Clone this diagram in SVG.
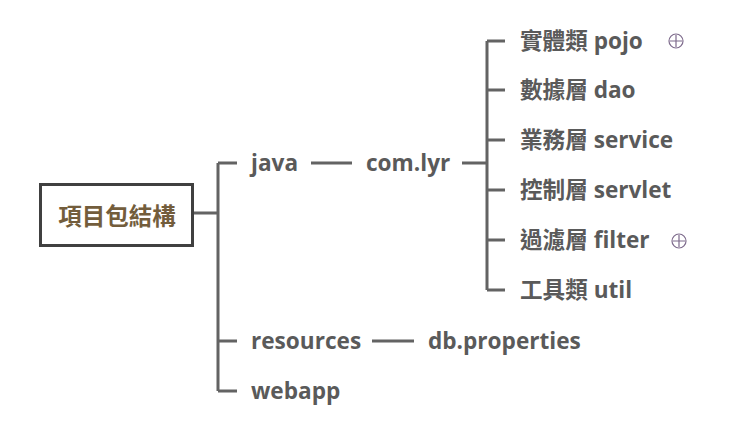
<svg xmlns="http://www.w3.org/2000/svg" width="744" height="431" viewBox="0 0 744 431">
<style>
.t{font-family:"Open Sans","Noto Sans CJK TC",sans-serif;font-weight:bold;font-size:22.6px;fill:#5a5a5a;dominant-baseline:central}
.c{fill:none;stroke:#636363;stroke-width:3}
.plus{fill:none;stroke:#7d6a8c;stroke-width:1.2}
</style>
<rect width="744" height="431" fill="#ffffff"/>
<g id="connectors" class="c">
<path d="M194 213H218M218 163V391M218 163H237M218 341H237M218 391H237"/>
<path d="M311 163H352"/>
<path d="M462 163H487M487 41V290M487 41H505M487 90H505M487 140H505M487 190H505M487 240H505M487 290H505"/>
<path d="M372 341H414"/>
</g>
<g id="root">
<rect x="40.5" y="184.5" width="152" height="61" fill="#fff" stroke="#404040" stroke-width="3"/>
<text x="117" y="216" text-anchor="middle" class="t" style="fill:#735d3c;font-size:23.5px">項目包結構</text>
</g>
<g id="java"><text x="251" y="162" class="t">java</text></g>
<g id="comlyr"><text x="366" y="162" class="t">com.lyr</text></g>
<g id="pojo"><text x="520" y="40" class="t">實體類 pojo</text>
<circle class="plus" cx="676" cy="41" r="7"/><path class="plus" d="M670 41H682M676 35V47"/></g>
<g id="dao"><text x="520" y="89" class="t">數據層 dao</text></g>
<g id="service"><text x="520" y="139" class="t">業務層 service</text></g>
<g id="servlet"><text x="520" y="189" class="t">控制層 servlet</text></g>
<g id="filter"><text x="520" y="239" class="t">過濾層 filter</text>
<circle class="plus" cx="679" cy="241" r="7"/><path class="plus" d="M673 241H685M679 235V247"/></g>
<g id="util"><text x="520" y="289" class="t">工具類 util</text></g>
<g id="resources"><text x="251" y="340" class="t">resources</text></g>
<g id="dbprops"><text x="428" y="340" class="t">db.properties</text></g>
<g id="webapp"><text x="251" y="390" class="t">webapp</text></g>
</svg>
